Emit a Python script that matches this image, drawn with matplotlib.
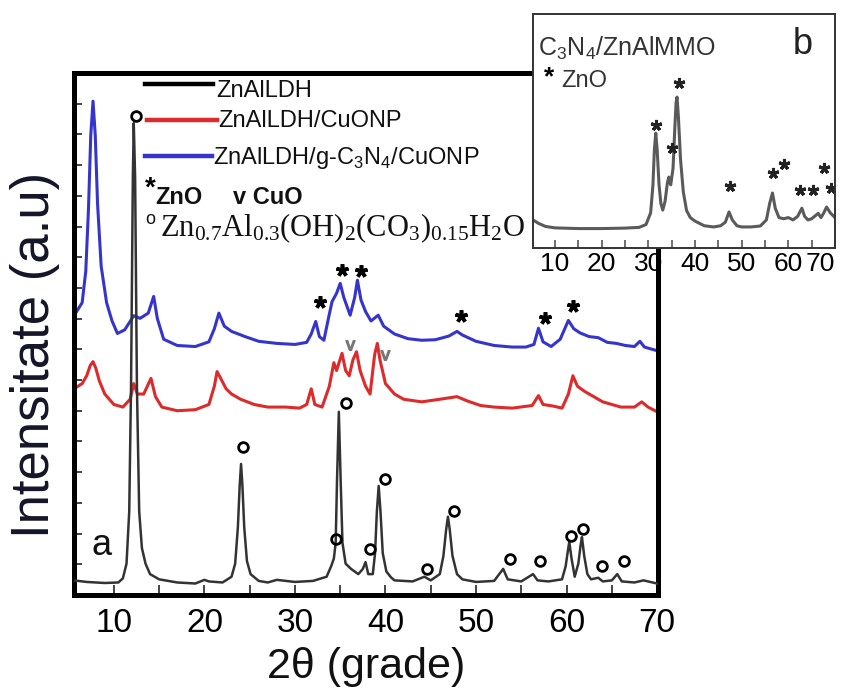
import matplotlib
matplotlib.use("Agg")
import matplotlib.pyplot as plt
from matplotlib.lines import Line2D
from matplotlib.ticker import MultipleLocator

plt.rcParams['font.family'] = ['Liberation Sans', 'DejaVu Sans']
plt.rcParams['mathtext.fontset'] = 'custom'
plt.rcParams['mathtext.rm'] = 'Liberation Serif'
plt.rcParams['mathtext.sf'] = 'Liberation Sans'

# ---- data (2theta in degrees, intensity in arbitrary units 0-100)
ldh_x = [5.6, 7, 9, 10.5, 11.0, 11.4, 11.7, 11.9, 12.1, 12.2, 12.35, 12.55, 12.8, 13.1, 13.5, 14, 15, 17, 19,
         20, 20.5, 22, 23.0, 23.4, 23.7, 23.9, 24.05, 24.2, 24.4, 24.7, 25.1, 26, 27, 28, 30, 32, 33.5, 34.0,
         34.3, 34.5, 34.65, 34.85, 35.05, 35.25, 35.6, 36.2, 37, 37.5, 37.8, 38.1, 38.6, 38.85, 39.05, 39.25,
         39.45, 39.7, 40.1, 40.6, 41, 43, 44.3, 45, 46.0, 46.4, 46.7, 46.9, 47.1, 47.4, 47.9, 48.5, 50, 52,
         53, 53.5, 55, 56.3, 56.8, 58, 59.5, 59.9, 60.15, 60.3, 60.55, 60.9, 61.3, 61.55, 61.7, 61.95, 62.3,
         62.7, 63.5, 64, 65.0, 65.6, 66.1, 67.5, 68.5, 70]
ldh_y = [2.8, 2.5, 2.3, 2.4, 3.2, 6, 16, 40, 80, 90.4, 80, 40, 16, 9, 6, 4, 3, 2.4, 2.2,
         2.9, 2.6, 2.4, 3.5, 6, 13, 21, 25.1, 21, 13, 6.5, 4, 2.7, 2.4, 2.9, 2.5, 2.7, 3.5, 5.5,
         7.0, 10, 22, 35.1, 22, 10, 6, 5, 4, 5, 6.3, 4, 4, 8, 16, 20.9,
         16, 8, 4.5, 3.4, 2.8, 2.6, 3.5, 2.8, 4, 7.5, 12.5, 15, 12.5, 7.5, 4, 3, 2.5, 2.7,
         5, 3, 2.6, 4, 2.8, 2.6, 3, 5.5, 8.5, 10.2, 7, 3.5, 6, 9.5, 11.1, 7.5, 4,
         3, 3.3, 2.6, 2.8, 4, 2.6, 2.4, 2.8, 2.2]

cu_x = [5.6, 6.5, 7.0, 7.4, 7.7, 8.0, 8.4, 9, 10, 11, 11.8, 12.2, 12.6, 13.3, 14.1, 14.6, 15.3, 17, 19, 20.5,
        21.1, 21.4, 21.8, 22.4, 23, 24, 25.5, 27, 29, 30.5, 31.3, 31.8, 32.2, 33, 33.8, 34.3, 34.6, 35.2, 35.6,
        36.0, 36.4, 36.8, 37.2, 37.8, 38.3, 38.8, 39.1, 39.4, 40, 41, 42, 44, 46, 47.9, 49, 50.5, 52, 54, 56.2,
        56.9, 57.4, 58.5, 59.5, 60.2, 60.7, 61.2, 62, 63, 64, 65, 66, 67.5, 68.3, 69, 70]
cu_y = [39.5, 40.5, 42, 44, 44.7, 43.5, 41, 38.5, 36.5, 36.0, 37.5, 40.5, 38.5, 38.5, 41.5, 38, 36, 35.3, 35.5, 36.5,
        40, 42.8, 41.5, 39.5, 38.5, 37.5, 36.5, 36, 36.0, 35.8, 36.5, 39.5, 36.5, 36, 40, 44.5, 43, 46.3, 43,
        42.0, 45, 46.6, 43, 40, 38.5, 46, 48.2, 45, 40.5, 38.5, 37.5, 37.0, 37.5, 38.0, 37.2, 36.3, 36.0, 35.8, 36.3,
        38.2, 36.5, 36.2, 35.8, 38.5, 42, 40, 39, 38, 37, 36.5, 36.0, 36.0, 37, 36, 35.1]

cn_x = [5.6, 6.5, 6.9, 7.2, 7.45, 7.7, 7.95, 8.2, 8.6, 9.2, 9.8, 10.4, 11.2, 12.2, 12.9, 13.8, 14.4, 14.8, 15.5,
        17, 19, 20.5, 21.1, 21.6, 22.2, 23, 24.5, 26, 28, 30, 31.3, 31.8, 32.3, 32.7, 33.2, 33.7, 34.1, 34.6,
        35.0, 35.4, 36.1, 36.6, 36.9, 37.3, 37.8, 38.4, 39.2, 39.8, 41, 42.5, 44, 45.5, 47, 47.9, 48.5, 50, 52,
        54, 55.5, 56.4, 56.9, 57.4, 58.3, 59.3, 60.2, 60.8, 61.5, 62.5, 63.5, 64.5, 65.5, 66.5, 67.5, 68.1,
        68.6, 70]
cn_y = [53.5, 56, 62, 74, 88, 94.6, 88, 75, 63, 56, 52.5, 50.1, 50.8, 53.5, 53, 54, 57.2, 53, 49,
        47.8, 47.6, 48.5, 51, 54, 51.5, 50.5, 49.5, 48.6, 48.2, 48.0, 48.4, 50, 52.4, 49.5, 48.8, 53, 56.2, 57.8,
        59.7, 57, 53.6, 57, 60.3, 56.5, 54.3, 52.5, 53.6, 51.5, 50, 49.1, 48.8, 48.9, 49.6, 50.5, 49.8, 48.6, 47.8,
        47.5, 47.5, 48, 51.1, 48.5, 47.6, 49, 52.6, 51, 50.2, 49.5, 49.3, 48.4, 48.2, 47.8, 47.6, 48.6,
        47.5, 46.8]

# inset b: C3N4/ZnAlMMO
mmo_x = [5.3, 6.5, 8, 10, 15, 20, 25, 28, 29.5, 30.5, 31.0, 31.3, 31.6, 31.9, 32.3, 32.7, 33.1, 33.6, 34.1,
         34.4, 34.8, 35.3, 35.7, 35.95, 36.15, 36.45, 36.9, 37.5, 38.2, 39, 40, 42, 44, 45.5, 46.5, 47.3,
         48, 49, 50, 52, 54, 55.3, 56, 56.6, 57.2, 58, 59, 60, 61, 62, 62.9, 63.5, 64.2, 65, 66.4, 67.0,
         67.6, 68.2, 69, 70]
mmo_y = [12.0, 10.5, 9.2, 8.6, 8.3, 8.3, 8.5, 8.8, 10, 15, 27, 42, 49.1, 42, 27, 19, 16.2, 20, 28,
         30.3, 27, 34, 52, 62, 64.5, 56, 38, 24, 16, 13, 11.5, 9.5, 9, 9.5, 11, 15.4,
         12, 9.5, 9.0, 9.0, 9.4, 12, 19, 23.5, 17, 13, 12.5, 13, 12, 13.5, 17, 13.5, 12, 12.5, 14.8, 13,
         15, 17.5, 15, 13]

# peak labels
o_x = [12.4, 24.3, 35.6, 34.5, 38.3, 40.0, 44.6, 47.6, 53.8, 57.1, 60.5, 61.8, 63.9, 66.4]
o_y = [91.7, 28.4, 36.7, 10.7, 8.8, 22.3, 5.0, 16.1, 6.9, 6.5, 11.3, 12.7, 5.6, 6.5]
star_x = [32.8, 35.2, 37.3, 48.3, 57.6, 60.7]
star_y = [56.2, 62.2, 62.0, 53.4, 53.0, 55.3]
v_x = [36.1, 40.0]
v_y = [47.8, 45.9]
b_star_x = [31.6, 35.0, 36.5, 47.4, 56.8, 59.1, 62.4, 65.3, 67.7, 69.2]
b_star_y = [52.6, 42.7, 70.5, 26.5, 32.1, 35.9, 24.8, 24.8, 34.2, 25.6]
b_ticks = [10, 20, 30, 40, 50, 60, 70]

W, H = 844, 696


def fx(x):
    return x / W


def fy(y):
    return 1 - y / H


fig = plt.figure(figsize=(W / 100, H / 100), dpi=100)

# main panel a
ax = fig.add_axes([fx(74), fy(595), (658 - 74) / W, (595 - 73) / H])
ax.plot(ldh_x, ldh_y, color='#333333', lw=1.8, zorder=3)
ax.plot(cu_x, cu_y, color='#dd2a2a', lw=2.2, zorder=2)
ax.plot(cn_x, cn_y, color='#3535cc', lw=2.2, zorder=2)
ax.set_xlim(5.6, 70.1)
ax.set_ylim(0, 100)
ax.xaxis.set_major_locator(MultipleLocator(10))
ax.xaxis.set_minor_locator(MultipleLocator(5))
ax.yaxis.set_major_locator(MultipleLocator(100 / 17))
ax.set_yticklabels([])
ax.tick_params(axis='x', which='both', direction='in', length=7, width=1.4, color='#444444',
               labelsize=24, pad=9, top=False)
ax.tick_params(axis='y', which='both', direction='in', length=6, width=1.4, color='#444444',
               labelleft=False, right=False)
for s in ax.spines.values():
    s.set_linewidth(3.6)
    s.set_color('black')

ax.plot(o_x, o_y, 'o', ms=7, mfc='none', mec='black', mew=2, zorder=4)
ax.plot(star_x, star_y, ls='none', marker=(5, 2, 0), ms=9, mec='black', mew=2.6, zorder=4)
ax.plot(v_x, v_y, ls='none', marker=r'$\mathsf{v}$', ms=7, color='#777777', zorder=4)
ax.text(8.6, 9.5, 'a', fontsize=26, ha='center', va='center', color='#111111')

fig.text(fx(366), fy(667), '2θ (grade)', fontsize=31, ha='center', va='center', color='#111111')
fig.text(fx(35), fy(355), 'Intensitate (a.u)', fontsize=38, rotation=90, ha='center', va='center',
         color='#15152a')

# legend drawn by hand
fig.add_artist(Line2D([fx(145), fx(213)], [fy(84), fy(84)], color='black', lw=3.2))
fig.add_artist(Line2D([fx(147), fx(217)], [fy(120), fy(120)], color='#dd2a2a', lw=3.2))
fig.add_artist(Line2D([fx(145), fx(212)], [fy(156), fy(156)], color='#3535cc', lw=3.2))
fig.text(fx(216), fy(97), 'ZnAlLDH', fontsize=17, va='baseline', color='#111111')
fig.text(fx(218), fy(127), 'ZnAlLDH/CuONP', fontsize=17, va='baseline', color='#111111')
fig.text(fx(213), fy(164), r'ZnAlLDH/g-C$_{\mathsf{3}}$N$_{\mathsf{4}}$/CuONP', fontsize=17,
         va='baseline', color='#111111')
fig.text(fx(145), fy(196), '*', fontsize=20, fontweight='bold', va='baseline')
fig.text(fx(155), fy(204), 'ZnO', fontsize=17, fontweight='bold', va='baseline', color='#111111')
fig.text(fx(233), fy(204), 'v CuO', fontsize=17, fontweight='bold', va='baseline', color='#111111')
fig.text(fx(145), fy(224), 'o', fontsize=13, va='baseline', color='#111111')
fig.text(fx(160), fy(236), r'$\mathrm{Zn_{0.7}Al_{0.3}(OH)_{2}(CO_{3})_{0.15}H_{2}O}$', fontsize=22,
         va='baseline', color='#111111')

# inset panel b
axb = fig.add_axes([fx(533), fy(248), (835 - 533) / W, (248 - 14) / H])
axb.set_facecolor('white')
axb.plot(mmo_x, mmo_y, color='#5a5a5a', lw=2.2)
axb.plot(b_star_x, b_star_y, ls='none', marker=(5, 2, 0), ms=8, mec='#222222', mew=2.2)
axb.set_xlim(5.3, 70.0)
axb.set_ylim(0, 100)
axb.set_xticks(b_ticks)
axb.set_xticklabels([str(t) for t in b_ticks])
axb.xaxis.set_minor_locator(MultipleLocator(5))
axb.set_yticks([])
axb.tick_params(axis='x', which='both', direction='in', length=6, width=1.2, color='#555555',
                labelsize=19, pad=3)
axb.get_xticklabels()[-1].set_ha('right')
for s in axb.spines.values():
    s.set_linewidth(1.4)
    s.set_color('#333333')
axb.text(0.015, 0.82, r'C$_{\mathsf{3}}$N$_{\mathsf{4}}$/ZnAlMMO', transform=axb.transAxes, fontsize=18,
         color='#333333', va='baseline')
axb.text(0.86, 0.83, 'b', transform=axb.transAxes, fontsize=26, color='#222222', va='baseline')
axb.text(0.035, 0.70, '*', transform=axb.transAxes, fontsize=19, fontweight='bold', va='baseline')
axb.text(0.095, 0.69, 'ZnO', transform=axb.transAxes, fontsize=17, color='#333333', va='baseline')

fig.savefig('out.png', dpi=100)
